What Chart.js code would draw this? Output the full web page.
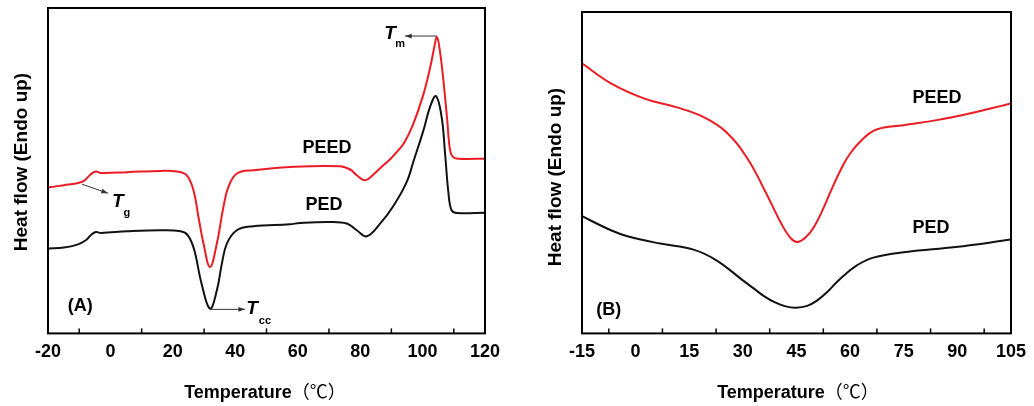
<!DOCTYPE html>
<html>
<head>
<meta charset="utf-8">
<script src="https://cdn.jsdelivr.net/npm/chart.js@4/dist/chart.umd.min.js"></script>
<style>
  body { margin: 0; background: #fff; }
  .panel { position: absolute; top: 0; width: 517px; height: 406px; }
</style>
</head>
<body>
<div class="panel" style="left:0"><canvas id="chartA" width="517" height="406"></canvas></div>
<div class="panel" style="left:517px"><canvas id="chartB" width="517" height="406"></canvas></div>
<script>
// Panel (A) - heating scan, heat flow in arbitrary units
const tempA_peed = [-20, -14.9, -10.7, -8.5, -6.3, -4.7, -3.1, 5.3, 16.1, 21.3, 24.4, 26.6, 28.2, 29.8, 31.9, 34.1, 36.2, 37.8, 40.5, 45.8, 57.5, 73.6, 76.8, 78.9, 81.6, 84, 86.4, 89.6, 92, 94.4, 97.0, 100.2, 102.4, 103.7, 104.6, 105.6, 106.6, 107.9, 108.8, 109.8, 111.4, 120];
const heatA_peed = [145.7, 148, 150, 152.3, 159, 161.7, 160.3, 161, 162.3, 161.7, 158, 143, 116.3, 90, 66.3, 90, 126.3, 146.3, 159.7, 163, 166.3, 167, 163.7, 158, 153, 158, 165, 174, 182, 192, 209, 238, 265, 285, 296, 281, 255, 213, 183, 176, 174.5, 174.5];
const tempA_ped = [-20, -14.9, -10.6, -7.9, -6.3, -4.7, -3.1, 5.4, 16.1, 22.5, 24.8, 26.8, 29.2, 31.9, 34.1, 35.7, 37.3, 40.5, 45.8, 57.5, 60.7, 70.4, 75.7, 78.9, 82.1, 86.4, 90.6, 94.9, 97.1, 100.3, 102.4, 104.3, 106.1, 107.2, 108.3, 109.3, 111, 120];
const heatA_ped = [84.7, 85.7, 88.7, 93, 98, 101.3, 100.3, 102, 103, 102, 98, 84, 49.7, 24.7, 43, 69.7, 89.7, 103, 107, 109, 110.3, 111.3, 109.7, 103, 97, 109.7, 127, 151, 172, 203, 226.3, 237, 216.3, 180, 140, 123, 120.3, 120.5];

// Panel (B) - cooling scan
const tempB_peed = [-15, -6.9, 2.3, 11.5, 18.9, 25.4, 31.4, 36.1, 40.7, 43.4, 45.3, 47.6, 49.9, 52.7, 54.5, 57.3, 60, 63.7, 67.4, 74.9, 84.2, 93.4, 105];
const heatB_peed = [269.7, 249.7, 234.7, 225.7, 216.3, 201, 174, 143, 110, 95, 91.3, 96, 106.3, 126.3, 141.3, 163, 179.7, 194.7, 203.7, 208, 213, 219.7, 229.7];
const tempB_ped = [-15, -6.9, -2.3, 6.9, 16.2, 22.6, 30, 33, 36, 39, 42, 44.8, 48, 50.8, 53.5, 56.3, 59, 61.9, 66.5, 75.7, 89.5, 105];
const heatB_ped = [117, 103, 97, 89.7, 83.7, 73, 53, 45, 37, 31, 27, 25.7, 27.5, 33, 41, 51.3, 60, 68, 75.7, 81.3, 86.3, 93.7];

const ticksA = [-20, 0, 20, 40, 60, 80, 100, 120];
const ticksB = [-15, 0, 15, 30, 45, 60, 75, 90, 105];

const RED = '#ec1c24';
const BLACK = '#111111';

function pts(xs, ys) {
    return xs.map((x, i) => ({ x: x, y: ys[i] }));
}

function drawArrow(ctx, x1, y1, x2, y2) {
    ctx.save();
    ctx.strokeStyle = '#333';
    ctx.fillStyle = '#333';
    ctx.lineWidth = 1;
    ctx.beginPath();
    ctx.moveTo(x1, y1);
    ctx.lineTo(x2, y2);
    ctx.stroke();
    const a = Math.atan2(y2 - y1, x2 - x1);
    ctx.beginPath();
    ctx.moveTo(x2, y2);
    ctx.lineTo(x2 - 7 * Math.cos(a - 0.35), y2 - 7 * Math.sin(a - 0.35));
    ctx.lineTo(x2 - 7 * Math.cos(a + 0.35), y2 - 7 * Math.sin(a + 0.35));
    ctx.closePath();
    ctx.fill();
    ctx.restore();
}

// frame, inward minor ticks, titles and annotations
const decorPlugin = {
    id: 'decor',
    afterDraw(chart, args, opts) {
        const ctx = chart.ctx;
        const a = chart.chartArea;
        const xs = chart.scales.x;
        const ys = chart.scales.y;
        ctx.save();
        ctx.strokeStyle = '#000';
        ctx.lineWidth = 2;
        ctx.strokeRect(a.left, a.top, a.right - a.left, a.bottom - a.top);

        // minor ticks between the labelled ones
        ctx.lineWidth = 1.5;
        const tv = xs.ticks.map(t => t.value);
        for (let i = 0; i < tv.length - 1; i++) {
            const px = xs.getPixelForValue((tv[i] + tv[i + 1]) / 2);
            ctx.beginPath();
            ctx.moveTo(px, a.bottom);
            ctx.lineTo(px, a.bottom - 5);
            ctx.stroke();
        }

        // x title
        ctx.fillStyle = '#000';
        ctx.textBaseline = 'alphabetic';
        ctx.font = 'bold 18px "Liberation Sans", Arial, sans-serif';
        const w1 = ctx.measureText('Temperature').width;
        ctx.font = '18px "Noto Sans CJK SC"';
        const w2 = ctx.measureText('（℃）').width;
        let sx = opts.xTitle.x - (w1 + w2) / 2;
        ctx.font = 'bold 18px "Liberation Sans", Arial, sans-serif';
        ctx.textAlign = 'left';
        ctx.fillText('Temperature', sx, opts.xTitle.y);
        ctx.font = '18px "Noto Sans CJK SC"';
        ctx.fillText('（℃）', sx + w1, opts.xTitle.y);

        // y title
        ctx.save();
        ctx.translate(opts.yTitle.x, opts.yTitle.y);
        ctx.rotate(-Math.PI / 2);
        ctx.textAlign = 'center';
        ctx.textBaseline = 'middle';
        ctx.font = 'bold 19px "Liberation Sans", Arial, sans-serif';
        ctx.fillText('Heat flow (Endo up)', 0, 0);
        ctx.restore();

        // curve labels
        ctx.textAlign = 'center';
        ctx.textBaseline = 'middle';
        ctx.font = 'bold 18px "Liberation Sans", Arial, sans-serif';
        opts.labels.forEach(l => {
            ctx.fillText(l.text, xs.getPixelForValue(l.x), ys.getPixelForValue(l.y));
        });

        // characteristic temperatures
        (opts.marks || []).forEach(m => {
            drawArrow(ctx, xs.getPixelForValue(m.from[0]), ys.getPixelForValue(m.from[1]),
                xs.getPixelForValue(m.to[0]), ys.getPixelForValue(m.to[1]));
            ctx.font = 'italic bold 19px "Liberation Sans", Arial, sans-serif';
            ctx.fillText('T', xs.getPixelForValue(m.t[0]), ys.getPixelForValue(m.t[1]));
            ctx.font = 'bold 11px "Liberation Sans", Arial, sans-serif';
            ctx.fillText(m.sub, xs.getPixelForValue(m.s[0]), ys.getPixelForValue(m.s[1]));
        });
        ctx.restore();
    }
};

function makeChart(id, sets, xr, ticks, yMax, pad, decor) {
    return new Chart(document.getElementById(id), {
        type: 'line',
        data: {
            datasets: sets.map(s => ({
                data: s.data,
                borderColor: s.color,
                borderWidth: 2,
                pointRadius: 0,
                fill: false,
                tension: 0.4
            }))
        },
        options: {
            responsive: false,
            animation: false,
            devicePixelRatio: 1,
            layout: { padding: pad },
            plugins: { legend: { display: false }, tooltip: { enabled: false }, decor: decor },
            scales: {
                x: {
                    type: 'linear',
                    min: xr[0],
                    max: xr[1],
                    afterBuildTicks: axis => { axis.ticks = ticks.map(v => ({ value: v })); },
                    grid: { display: false, drawTicks: false },
                    border: { display: false },
                    ticks: {
                        color: '#000',
                        padding: 8,
                        font: { family: '"Liberation Sans", Arial, sans-serif', size: 18, weight: 'bold' }
                    }
                },
                y: { display: false, min: 0, max: yMax }
            }
        },
        plugins: [decorPlugin]
    });
}

makeChart('chartA', [
    { data: pts(tempA_peed, heatA_peed), color: RED },
    { data: pts(tempA_ped, heatA_ped), color: BLACK }
], [-20, 120], ticksA, 325, { left: 48, right: 32, top: 8, bottom: 35 }, {
    xTitle: { x: 265, y: 398 },
    yTitle: { x: 22, y: 162 },
    labels: [
        { text: 'PEED', x: 69.4, y: 185 },
        { text: 'PED', x: 68.4, y: 128 },
        { text: '(A)', x: -9.7, y: 27 }
    ],
    marks: [
        { sub: 'g', from: [-9.1, 149], to: [-0.8, 140], t: [2.4, 131], s: [5.3, 120] },
        { sub: 'cc', from: [32.1, 24], to: [43.1, 24], t: [45.4, 25], s: [49.5, 12] },
        { sub: 'm', from: [104.6, 297], to: [94.4, 297], t: [89.6, 299], s: [92.8, 289] }
    ]
});

makeChart('chartB', [
    { data: pts(tempB_peed, heatB_peed), color: RED },
    { data: pts(tempB_ped, heatB_ped), color: BLACK }
], [-15, 105], ticksB, 321, { left: 65, right: 18, top: 12, bottom: 35 }, {
    xTitle: { x: 281, y: 398 },
    yTitle: { x: 39, y: 177 },
    labels: [
        { text: 'PEED', x: 84.3, y: 235 },
        { text: 'PED', x: 82.6, y: 105 },
        { text: '(B)', x: -7.5, y: 23 }
    ]
});
</script>
</body>
</html>
